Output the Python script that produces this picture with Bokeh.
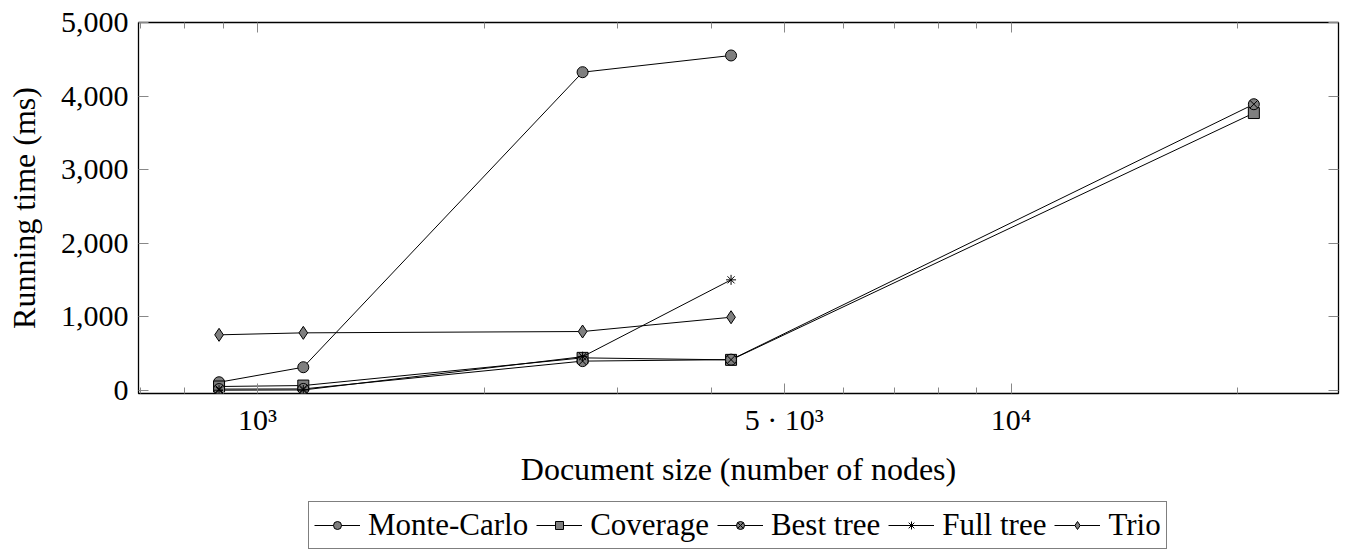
from bokeh.plotting import figure
from bokeh.layouts import column
from bokeh.models import (FixedTicker, LogAxis, LinearAxis, Legend, LegendItem,
                          NumeralTickFormatter, CustomJSTickFormatter, Range1d)
from bokeh.embed import file_html
from bokeh.resources import INLINE

# ---- data ----
sizes = [889, 1150, 2700, 4250, 21000]
monte_carlo = [113, 317, 4325, 4552]
coverage = [55, 68, 444, 417, 3770]
best_tree = [20, 22, 400, 420, 3890]
full_tree = [5, 8, 460, 1504]
trio = [757, 784, 802, 996]

x_major = [1000, 5000, 10000]
x_minor = [700, 800, 900, 2000, 3000, 4000, 6000, 7000, 8000, 9000, 20000]
y_ticks = [0, 1000, 2000, 3000, 4000, 5000]

labels = ["Monte-Carlo", "Coverage", "Best tree", "Full tree", "Trio"]
markers = ["circle", "square", "circle_x", "asterisk", "diamond"]
msizes = [11, 11, 11, 10, 13]
all_series = [monte_carlo, coverage, best_tree, full_tree, trio]

FONT = "Liberation Serif"
TICK_FS = "30px"
LABEL_FS = "32px"
LEG_FS = "31px"
GRAY = "#7f7f7f"

p = figure(width=1350, height=500, x_axis_type="log",
           x_range=Range1d(695, 27200), y_range=Range1d(-40, 5000),
           output_backend="svg", toolbar_location=None,
           min_border_left=138, min_border_right=12, min_border_top=22,
           min_border_bottom=107)

p.xgrid.visible = False
p.ygrid.visible = False
p.outline_line_color = "black"
p.outline_line_width = 1.3
p.background_fill_color = "white"
p.border_fill_color = "white"

xt = FixedTicker(ticks=x_major, minor_ticks=x_minor)
yt = FixedTicker(ticks=y_ticks, minor_ticks=[])
xfmt = CustomJSTickFormatter(code="""
if (Math.abs(tick-1000) < 1) return "10\u00b3";
if (Math.abs(tick-5000) < 1) return "5 \u00b7 10\u00b3";
if (Math.abs(tick-10000) < 1) return "10\u2074";
return "";
""")
blank = CustomJSTickFormatter(code='return "";')

def style_axis(ax):
    ax.axis_line_color = None
    ax.major_tick_in = 10
    ax.major_tick_out = 0
    ax.minor_tick_in = 6
    ax.minor_tick_out = 0
    ax.major_tick_line_color = "#888888"
    ax.minor_tick_line_color = "#888888"
    ax.major_label_text_font = FONT
    ax.major_label_text_font_size = TICK_FS
    ax.major_label_text_color = "black"
    ax.axis_label_text_font = FONT
    ax.axis_label_text_font_size = LABEL_FS
    ax.axis_label_text_font_style = "normal"
    ax.axis_label_text_color = "black"

xa = p.xaxis[0]
xa.ticker = xt
xa.formatter = xfmt
style_axis(xa)
xa.major_label_standoff = 9
xa.axis_label = "Document size (number of nodes)"
xa.axis_label_standoff = 12

ya = p.yaxis[0]
ya.ticker = yt
ya.formatter = NumeralTickFormatter(format="0,0")
style_axis(ya)
ya.major_label_standoff = 10
ya.axis_label = "Running time (ms)"
ya.axis_label_standoff = 16

# mirrored ticks
ra = LinearAxis(ticker=yt, formatter=blank)
style_axis(ra)
ra.major_label_standoff = 0
p.add_layout(ra, "right")
ta = LogAxis(ticker=xt, formatter=blank)
style_axis(ta)
ta.major_label_standoff = 0
p.add_layout(ta, "above")

for ys, mk, ms in zip(all_series, markers, msizes):
    xs = sizes[:len(ys)]
    p.line(xs, ys, line_color="black", line_width=1)
    p.scatter(xs, ys, marker=mk, size=ms, fill_color=GRAY,
              line_color="black", line_width=1)

# legend in its own strip below the chart
lg = figure(width=1350, height=51, x_range=Range1d(0, 1), y_range=Range1d(0, 1),
            output_backend="svg", toolbar_location=None,
            min_border_left=0, min_border_right=0, min_border_top=0, min_border_bottom=0)
lg.xaxis.visible = False
lg.yaxis.visible = False
lg.xgrid.visible = False
lg.ygrid.visible = False
lg.outline_line_color = None
lg.background_fill_color = "white"
lg.border_fill_color = "white"

items = []
for lab, mk, ms in zip(labels, markers, msizes):
    l = lg.line([-3, -2], [-3, -2], line_color="black", line_width=1)
    s = lg.scatter([-3], [-3], marker=mk, size=ms - 2, fill_color=GRAY,
                   line_color="black", line_width=1)
    items.append(LegendItem(label=lab, renderers=[l, s]))

legend = Legend(items=items, orientation="horizontal", location=(170, 2),
                label_text_font=FONT, label_text_font_size=LEG_FS,
                label_text_color="black",
                border_line_color="black", border_line_width=1,
                padding=5, spacing=8, glyph_width=46, label_standoff=8, margin=0,
                background_fill_alpha=1.0)
lg.add_layout(legend, "center")

open("out.html", "w").write(file_html(column(p, lg), INLINE))
